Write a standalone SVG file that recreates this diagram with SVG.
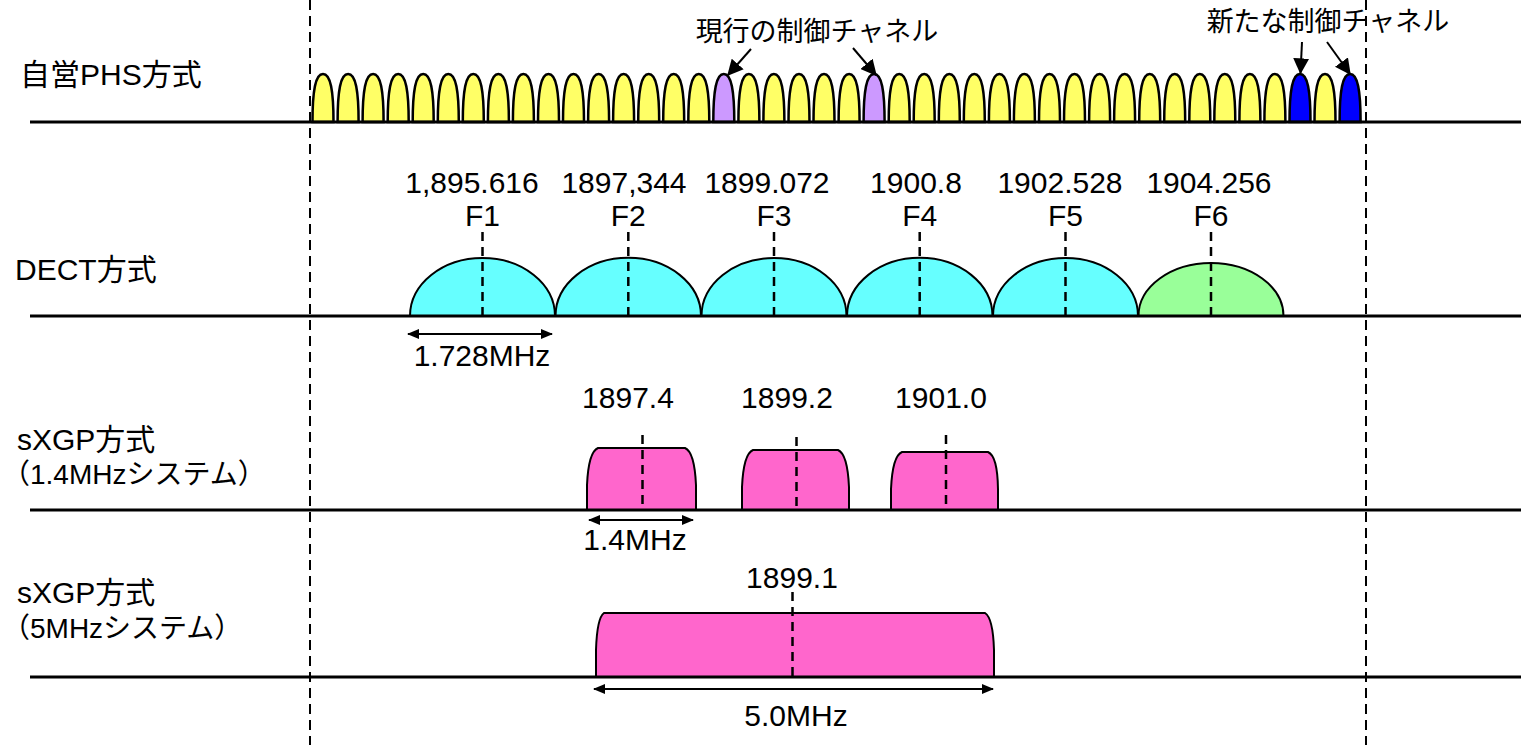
<svg xmlns="http://www.w3.org/2000/svg" xmlns:xlink="http://www.w3.org/1999/xlink" width="1521" height="745" viewBox="0 0 1521 745">
<style>
.t{font-family:"Liberation Sans","Noto Sans CJK JP",sans-serif;font-size:30px;fill:#000}
.s{font-family:"Liberation Sans","Noto Sans CJK JP",sans-serif;font-size:28px;fill:#000}
.a{font-family:"Liberation Sans","Noto Sans CJK JP",sans-serif;font-size:27px;fill:#000}
.m{text-anchor:middle}
.base{stroke:#000;stroke-width:3}
.vd{stroke:#000;stroke-width:2;stroke-dasharray:10 6}
.cd{stroke:#000;stroke-width:2.5;stroke-dasharray:9 6}
.sh{stroke:#000;stroke-width:2}
.bm{stroke:#000;stroke-width:2.5}
.y{fill:#FFFF66}.p{fill:#CC99FF}.b{fill:#0000FF}
.cy{fill:#66FFFF}.gr{fill:#99FF99}.pk{fill:#FF66CC}
.ar{stroke:#000;stroke-width:2;fill:none}
</style>
<defs>
<path id="bump" d="M0,0 C0,-32 3,-48 10.5,-48 C18,-48 21,-32 21,0 Z"/>
<marker id="ah" viewBox="0 0 12 12" refX="11" refY="6" markerWidth="16" markerHeight="16" markerUnits="userSpaceOnUse" orient="auto-start-reverse"><path d="M0,0 L12,6 L0,12 Z" fill="#000"/></marker>
<marker id="dh" viewBox="0 0 12 10" refX="11" refY="5" markerWidth="13" markerHeight="10" markerUnits="userSpaceOnUse" orient="auto-start-reverse"><path d="M0,0 L12,5 L0,10 Z" fill="#000"/></marker>
</defs>
<rect width="1521" height="745" fill="#fff"/>

<g id="guides">
<line class="vd" x1="310" y1="0" x2="310" y2="745"/>
<line class="vd" x1="1366" y1="0" x2="1366" y2="745"/>
</g>

<g id="phs">
<text class="t" x="20" y="85">自営PHS方式</text>
<g class="bm" transform="translate(0,122)">
<use xlink:href="#bump" x="312.5" class="y"/><use xlink:href="#bump" x="337.6" class="y"/><use xlink:href="#bump" x="362.6" class="y"/><use xlink:href="#bump" x="387.7" class="y"/><use xlink:href="#bump" x="412.7" class="y"/><use xlink:href="#bump" x="437.8" class="y"/><use xlink:href="#bump" x="462.8" class="y"/><use xlink:href="#bump" x="487.9" class="y"/><use xlink:href="#bump" x="512.9" class="y"/><use xlink:href="#bump" x="538.0" class="y"/>
<use xlink:href="#bump" x="563.0" class="y"/><use xlink:href="#bump" x="588.1" class="y"/><use xlink:href="#bump" x="613.1" class="y"/><use xlink:href="#bump" x="638.2" class="y"/><use xlink:href="#bump" x="663.2" class="y"/><use xlink:href="#bump" x="688.3" class="y"/><use xlink:href="#bump" x="713.3" class="p"/><use xlink:href="#bump" x="738.4" class="y"/><use xlink:href="#bump" x="763.4" class="y"/><use xlink:href="#bump" x="788.5" class="y"/>
<use xlink:href="#bump" x="813.5" class="y"/><use xlink:href="#bump" x="838.6" class="y"/><use xlink:href="#bump" x="863.6" class="p"/><use xlink:href="#bump" x="888.7" class="y"/><use xlink:href="#bump" x="913.7" class="y"/><use xlink:href="#bump" x="938.8" class="y"/><use xlink:href="#bump" x="963.8" class="y"/><use xlink:href="#bump" x="988.9" class="y"/><use xlink:href="#bump" x="1013.9" class="y"/><use xlink:href="#bump" x="1039.0" class="y"/>
<use xlink:href="#bump" x="1064.0" class="y"/><use xlink:href="#bump" x="1089.1" class="y"/><use xlink:href="#bump" x="1114.1" class="y"/><use xlink:href="#bump" x="1139.2" class="y"/><use xlink:href="#bump" x="1164.2" class="y"/><use xlink:href="#bump" x="1189.3" class="y"/><use xlink:href="#bump" x="1214.3" class="y"/><use xlink:href="#bump" x="1239.4" class="y"/><use xlink:href="#bump" x="1264.4" class="y"/><use xlink:href="#bump" x="1289.5" class="b"/>
<use xlink:href="#bump" x="1314.5" class="y"/><use xlink:href="#bump" x="1339.6" class="b"/>
</g>
<line class="base" x1="30" y1="122" x2="1521" y2="122"/>
<text class="a m" x="817" y="41">現行の制御チャネル</text>
<text class="a m" x="1328" y="31">新たな制御チャネル</text>
</g>

<g id="dect">
<text class="t" x="15" y="280">DECT方式</text>
<path class="sh cy" d="M410,316 A72.5,58 0 0 1 555,316 Z"/>
<path class="sh cy" d="M555.5,316 A72.5,58 0 0 1 701,316 Z"/>
<path class="sh cy" d="M701.5,316 A72.5,58 0 0 1 846.5,316 Z"/>
<path class="sh cy" d="M847,316 A72.5,58 0 0 1 992.5,316 Z"/>
<path class="sh cy" d="M993,316 A72.5,58 0 0 1 1138,316 Z"/>
<path class="sh gr" d="M1138.5,316 A72.5,53 0 0 1 1283.5,316 Z"/>
<line class="cd" x1="482.5" y1="232" x2="482.5" y2="316"/>
<line class="cd" x1="628.3" y1="232" x2="628.3" y2="316"/>
<line class="cd" x1="774" y1="232" x2="774" y2="316"/>
<line class="cd" x1="919.7" y1="232" x2="919.7" y2="316"/>
<line class="cd" x1="1065.5" y1="232" x2="1065.5" y2="316"/>
<line class="cd" x1="1211" y1="232" x2="1211" y2="316"/>
<line class="base" x1="30" y1="316" x2="1521" y2="316"/>
<text class="t m" x="472" y="193">1,895.616</text>
<text class="t m" x="624" y="193">1897,344</text>
<text class="t m" x="767" y="193">1899.072</text>
<text class="t m" x="916" y="193">1900.8</text>
<text class="t m" x="1060" y="193">1902.528</text>
<text class="t m" x="1209" y="193">1904.256</text>
<text class="t m" x="482.5" y="226">F1</text>
<text class="t m" x="628.3" y="226">F2</text>
<text class="t m" x="774" y="226">F3</text>
<text class="t m" x="919.7" y="226">F4</text>
<text class="t m" x="1065.5" y="226">F5</text>
<text class="t m" x="1211" y="226">F6</text>
<text class="t m" x="482" y="366">1.728MHz</text>
</g>

<g id="sxgp14">
<text class="t" x="17" y="450">sXGP方式</text>
<text class="s" x="2" y="484">（1.4MHzシステム）</text>
<path class="sh pk" d="M587,510 L587,485 Q588.5,452 598,448 L685,448 Q694.5,452 696,485 L696,510 Z"/>
<path class="sh pk" d="M742,510 L742,487 Q743.5,454 753,450 L838,450 Q847.5,454 849,487 L849,510 Z"/>
<path class="sh pk" d="M891,510 L891,489 Q892.5,456 902,452 L988,452 Q997.5,456 998,489 L998,510 Z"/>
<line class="cd" x1="642.5" y1="435" x2="642.5" y2="510"/>
<line class="cd" x1="796.5" y1="437" x2="796.5" y2="510"/>
<line class="cd" x1="946" y1="435" x2="946" y2="510"/>
<line class="base" x1="30" y1="510" x2="1521" y2="510"/>
<text class="t m" x="628" y="408">1897.4</text>
<text class="t m" x="787" y="408">1899.2</text>
<text class="t m" x="941" y="408">1901.0</text>
<text class="t m" x="635" y="550">1.4MHz</text>
</g>

<g id="sxgp5">
<text class="t" x="17" y="603">sXGP方式</text>
<text class="s" x="2" y="638">（5MHzシステム）</text>
<path class="sh pk" d="M596,677 L596,650 Q597,618 604,613 L985,613 Q993,618 994,650 L994,677 Z"/>
<line class="cd" x1="792.5" y1="592" x2="792.5" y2="677"/>
<line class="base" x1="30" y1="677" x2="1521" y2="677"/>
<text class="t m" x="792" y="588">1899.1</text>
<text class="t m" x="796" y="726">5.0MHz</text>
</g>

<g id="connectors">
<line class="ar" x1="751" y1="49" x2="728" y2="75" marker-end="url(#ah)"/>
<line class="ar" x1="853" y1="48" x2="876" y2="75" marker-end="url(#ah)"/>
<line class="ar" x1="1302" y1="42" x2="1300.5" y2="73" marker-end="url(#ah)"/>
<line class="ar" x1="1327" y1="42" x2="1350" y2="74" marker-end="url(#ah)"/>
<line class="ar" x1="408" y1="334" x2="552" y2="334" marker-start="url(#dh)" marker-end="url(#dh)"/>
<line class="ar" x1="589" y1="520" x2="693" y2="520" marker-start="url(#dh)" marker-end="url(#dh)"/>
<line class="ar" x1="594" y1="689" x2="993" y2="689" marker-start="url(#dh)" marker-end="url(#dh)"/>
</g>
</svg>
